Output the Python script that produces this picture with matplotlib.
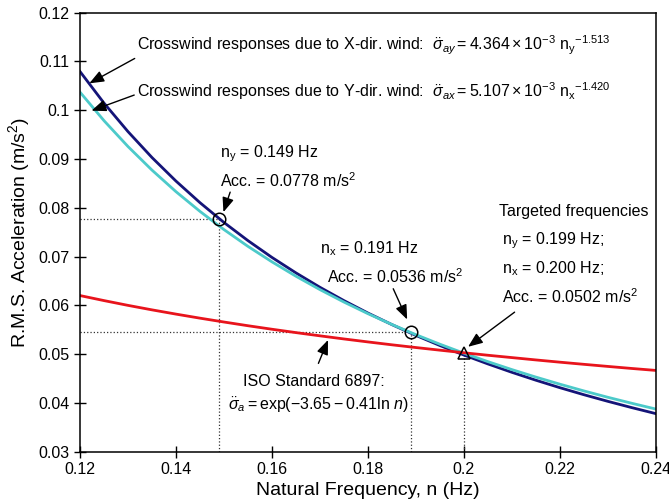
# importing library
import matplotlib
matplotlib.use('Agg')
import matplotlib.pyplot as plt

# data (acceleration in m/s^2 against natural frequency in Hz)
freq = [0.120, 0.125, 0.130, 0.135, 0.140, 0.145, 0.150, 0.155, 0.160,
        0.165, 0.170, 0.175, 0.180, 0.185, 0.190, 0.195, 0.200, 0.205,
        0.210, 0.215, 0.220, 0.225, 0.230, 0.235, 0.240]
# crosswind responses due to X-dir. wind (navy)
acc_x_wind = [0.10792, 0.10145, 0.09561, 0.09030, 0.08547, 0.08105, 0.07699,
              0.07327, 0.06983, 0.06666, 0.06371, 0.06098, 0.05843, 0.05606,
              0.05384, 0.05177, 0.04982, 0.04800, 0.04628, 0.04466, 0.04313,
              0.04169, 0.04033, 0.03904, 0.03781]
# crosswind responses due to Y-dir. wind (cyan)
acc_y_wind = [0.10369, 0.09785, 0.09255, 0.08772, 0.08330, 0.07926, 0.07553,
              0.07209, 0.06892, 0.06597, 0.06323, 0.06068, 0.05830, 0.05608,
              0.05399, 0.05204, 0.05020, 0.04847, 0.04684, 0.04530, 0.04385,
              0.04247, 0.04116, 0.03993, 0.03875]
# ISO standard 6897 limit (red)
acc_iso = [0.06200, 0.06097, 0.05999, 0.05907, 0.05820, 0.05737, 0.05658,
           0.05582, 0.05510, 0.05441, 0.05375, 0.05311, 0.05250, 0.05191,
           0.05135, 0.05081, 0.05028, 0.04977, 0.04929, 0.04881, 0.04835,
           0.04791, 0.04748, 0.04706, 0.04666]

# marked points: two circles and the targeted-frequency triangle
circle_freq = [0.149, 0.189]
circle_acc = [0.0776, 0.0545]
target_freq = [0.200]
target_acc = [0.0502]

x_ticks = [0.12, 0.14, 0.16, 0.18, 0.20, 0.22, 0.24]
x_tick_labels = ['0.12', '0.14', '0.16', '0.18', '0.2', '0.22', '0.24']
y_ticks = [0.03, 0.04, 0.05, 0.06, 0.07, 0.08, 0.09, 0.10, 0.11, 0.12]
y_tick_labels = ['0.03', '0.04', '0.05', '0.06', '0.07', '0.08', '0.09',
                 '0.1', '0.11', '0.12']

# fonts: Arial-like text, math in the same family
plt.rcParams['font.family'] = ['Liberation Sans', 'DejaVu Sans']
plt.rcParams['mathtext.fontset'] = 'custom'
plt.rcParams['mathtext.rm'] = 'Liberation Sans'
plt.rcParams['mathtext.it'] = 'Liberation Sans:italic'
plt.rcParams['mathtext.bf'] = 'Liberation Sans:bold'

fig = plt.figure(figsize=(6.69, 5.04), dpi=100)
ax = fig.add_axes([0.1196, 0.1038, 0.8604, 0.8712])

# dotted guide lines from the marked points to the axes
for fx, fy in zip(circle_freq, circle_acc):
    ax.plot([x_ticks[0], fx], [fy, fy], ':', color='#333333', lw=0.9)
    ax.plot([fx, fx], [y_ticks[0], fy], ':', color='#333333', lw=0.9)
ax.plot([target_freq[0], target_freq[0]], [y_ticks[0], target_acc[0]], ':',
        color='#333333', lw=0.9)

# the three curves
ax.plot(freq, acc_x_wind, color='#141478', lw=2.0)
ax.plot(freq, acc_y_wind, color='#4ccaca', lw=2.0)
ax.plot(freq, acc_iso, color='#e8141c', lw=2.0)

# markers
ax.plot(circle_freq, circle_acc, 'o', ms=9, mfc='none', mec='black', mew=1.1)
ax.plot(target_freq, target_acc, '^', ms=9, mfc='none', mec='black', mew=1.1)

# annotations with arrows
arrow = dict(arrowstyle='-|>,head_length=0.55,head_width=0.22',
             color='black', lw=1.0, mutation_scale=16,
             shrinkA=0, shrinkB=0)
fs = 11.5

ax.text(0.1318, 0.1132,
        r'Crosswind responses due to X-dir. wind:  '
        r'$\ddot{\sigma}_{ay} = 4.364 \times 10^{-3}\ '
        r'{\mathrm{n}_\mathrm{y}}^{-1.513}$',
        fontsize=fs, va='center', ha='left')
ax.annotate('', xy=(0.12194, 0.1055), xytext=(0.1314, 0.1106),
            arrowprops=arrow)
ax.text(0.1318, 0.1038,
        r'Crosswind responses due to Y-dir. wind:  '
        r'$\ddot{\sigma}_{ax} = 5.107 \times 10^{-3}\ '
        r'{\mathrm{n}_\mathrm{x}}^{-1.420}$',
        fontsize=fs, va='center', ha='left')
ax.annotate('', xy=(0.1224, 0.0999), xytext=(0.1313, 0.1031),
            arrowprops=arrow)

ax.text(0.1492, 0.0911, r'n$_\mathrm{y}$ = 0.149 Hz', fontsize=fs,
        va='center')
ax.text(0.1492, 0.0856, r'Acc. = 0.0778 m/s$^2$', fontsize=fs, va='center')
ax.annotate('', xy=(0.1499, 0.0791), xytext=(0.1513, 0.0832),
            arrowprops=arrow)

ax.text(0.1700, 0.0716, r'n$_\mathrm{x}$ = 0.191 Hz', fontsize=fs,
        va='center')
ax.text(0.1714, 0.0658, r'Acc. = 0.0536 m/s$^2$', fontsize=fs, va='center')
ax.annotate('', xy=(0.1882, 0.0571), xytext=(0.1853, 0.0634),
            arrowprops=arrow)

ax.text(0.2074, 0.0793, 'Targeted frequencies', fontsize=fs, va='center')
ax.text(0.2079, 0.0733, r'n$_\mathrm{y}$ = 0.199 Hz;', fontsize=fs,
        va='center')
ax.text(0.2079, 0.0675, r'n$_\mathrm{x}$ = 0.200 Hz;', fontsize=fs,
        va='center')
ax.text(0.2079, 0.0618, r'Acc. = 0.0502 m/s$^2$', fontsize=fs, va='center')
ax.annotate('', xy=(0.2009, 0.0515), xytext=(0.2106, 0.0586),
            arrowprops=arrow)

ax.text(0.1688, 0.0443, 'ISO Standard 6897:', fontsize=fs, va='center',
        ha='center')
ax.text(0.1697, 0.0395,
        r'$\ddot{\sigma}_a = \mathrm{exp}(-3.65 - 0.41\mathrm{ln}\ n)$',
        fontsize=fs, va='center', ha='center')
ax.annotate('', xy=(0.1717, 0.0529), xytext=(0.1697, 0.0481),
            arrowprops=arrow)

# axes, ticks and labels
ax.set_xlim(0.12, 0.24)
ax.set_ylim(0.03, 0.12)
ax.set_xticks(x_ticks)
ax.set_xticklabels(x_tick_labels)
ax.set_yticks(y_ticks)
ax.set_yticklabels(y_tick_labels)
ax.tick_params(direction='inout', length=8.5, width=1.0, labelsize=fs,
               top=False, right=False)
for spine in ax.spines.values():
    spine.set_linewidth(1.1)
ax.set_xlabel('Natural Frequency, n (Hz)', fontsize=14, labelpad=3)
ax.set_ylabel(r'R.M.S. Acceleration (m/s$^2$)', fontsize=14, labelpad=4)

fig.savefig('out.png', dpi=100)
